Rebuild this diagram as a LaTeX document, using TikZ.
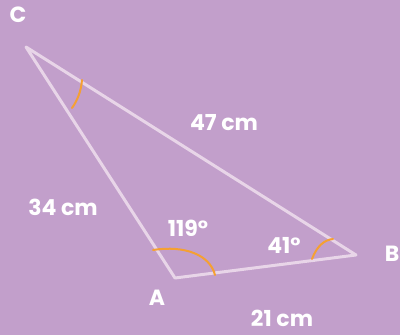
\documentclass[tikz,border=0pt]{standalone}
\usepackage{fontspec}
\setmainfont{Poppins Bold}
\begin{document}
\begin{tikzpicture}[x=1pt,y=1pt,
  side/.style={draw=sidecol,line width=3pt,line join=round},
  anglearc/.style={draw=arccol,line width=2pt,line cap=round},
  lbl/.style={text=white,font=\fontsize{22}{26}\selectfont,inner sep=0pt}]
\definecolor{bgcol}{HTML}{C29FCB}
\definecolor{sidecol}{HTML}{E8D5E8}
\definecolor{arccol}{HTML}{F5A032}
\fill[bgcol] (0,0) rectangle (400,335);
\useasboundingbox (0,0) rectangle (400,335);
\coordinate (C) at (26,288);
\coordinate (A) at (175,57);
\coordinate (B) at (356,80);
\draw[side] (C) -- (A) -- (B) -- cycle;
\draw[anglearc] (82,255) .. controls (81,243) and (77,234) .. (72,227);
\draw[anglearc] (153,85) .. controls (185,90) and (210,80) .. (215,60);
\draw[anglearc] (312,76) .. controls (317,89) and (324,95) .. (333,96);
\node[lbl] (lC) at (18,320) {C};
\node[lbl] (lA) at (157,37) {A};
\node[lbl] (lB) at (392,81) {B};
\node[lbl] (l47) at (224,212) {47 cm};
\node[lbl] (l34) at (63,128) {34 cm};
\node[lbl] (l21) at (282,17) {21 cm};
\node[lbl] (l119) at (188,107) {119°};
\node[lbl] (l41) at (284,90) {41°};
\end{tikzpicture}
\end{document}
